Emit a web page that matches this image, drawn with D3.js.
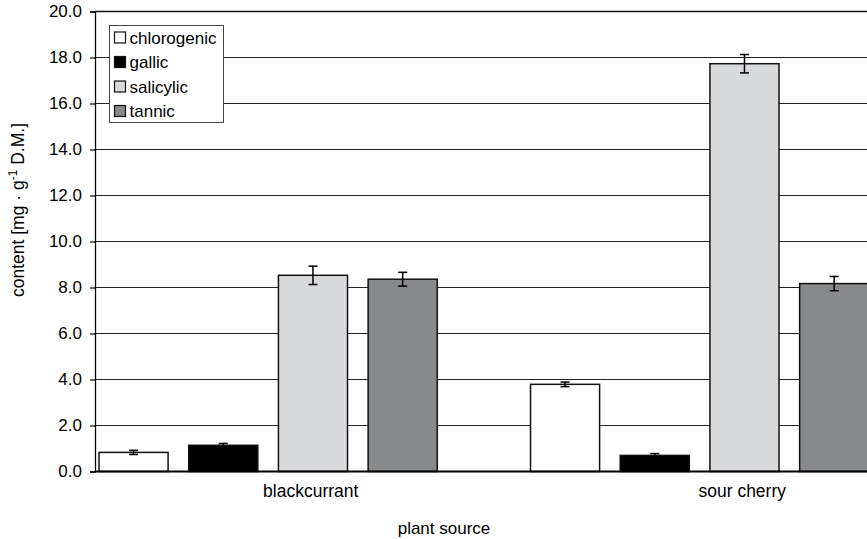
<!DOCTYPE html>
<html>
<head>
<meta charset="utf-8">
<script src="https://cdn.jsdelivr.net/npm/d3@7"></script>
<style>
  body { margin: 0; background: #fff; }
  text { font-family: "Liberation Sans", Arial, sans-serif; fill: #000; }
</style>
</head>
<body>
<div id="chart"></div>
<script>
// chart data
var categories = ["blackcurrant", "sour cherry"];
var series = ["chlorogenic", "gallic", "salicylic", "tannic"];
var seriesColors = ["#ffffff", "#000000", "#d9dadc", "#88898b"];
// values per category, same order as series
var blackcurrantValues = [0.83, 1.14, 8.53, 8.36];
var sourCherryValues = [3.79, 0.70, 17.73, 8.17];
var blackcurrantErrors = [0.09, 0.08, 0.40, 0.30];
var sourCherryErrors = [0.10, 0.08, 0.40, 0.31];
var yTicks = [0, 2, 4, 6, 8, 10, 12, 14, 16, 18, 20];

var svgWidth = 867;
var svgHeight = 539;
var margin = { top: 11.5, left: 95, bottom: 67.5 };
var plotBottom = svgHeight - margin.bottom;

var svg = d3.select("#chart")
    .append("svg")
    .attr("width", svgWidth)
    .attr("height", svgHeight);

var rows = [];
categories.forEach(function (cat, ci) {
    var vals = ci === 0 ? blackcurrantValues : sourCherryValues;
    var errs = ci === 0 ? blackcurrantErrors : sourCherryErrors;
    series.forEach(function (s, si) {
        rows.push({ cat: cat, series: s, value: vals[si], err: errs[si], color: seriesColors[si] });
    });
});

// the plot continues past the right edge of the picture
var x0 = d3.scaleBand()
    .domain(categories)
    .range([margin.left, 958]);

var x1 = d3.scaleBand()
    .domain(series)
    .range([0, x0.bandwidth()])
    .paddingInner(0.23)
    .paddingOuter(0.52)
    .align(0.043);

var yScale = d3.scaleLinear()
    .domain([0, 20])
    .range([plotBottom, margin.top]);

// grid lines
svg.append("g")
    .selectAll("line")
    .data(yTicks.filter(d => d > 0))
    .enter()
    .append("line")
    .attr("x1", margin.left)
    .attr("x2", svgWidth)
    .attr("y1", d => yScale(d))
    .attr("y2", d => yScale(d))
    .attr("stroke", "#222")
    .attr("stroke-width", 1.2);

// bars
svg.append("g")
    .selectAll("rect")
    .data(rows)
    .enter()
    .append("rect")
    .attr("x", d => x0(d.cat) + x1(d.series))
    .attr("y", d => yScale(d.value))
    .attr("width", x1.bandwidth())
    .attr("height", d => plotBottom - yScale(d.value))
    .attr("fill", d => d.color)
    .attr("stroke", "#111")
    .attr("stroke-width", 1.5);

// error bars
var errG = svg.append("g")
    .attr("stroke", "#000")
    .attr("stroke-width", 1.5);

rows.forEach(function (d) {
    var cx = x0(d.cat) + x1(d.series) + x1.bandwidth() / 2;
    var yTop = yScale(d.value + d.err);
    var yBot = yScale(d.value - d.err);
    errG.append("line").attr("x1", cx).attr("x2", cx).attr("y1", yTop).attr("y2", yBot);
    errG.append("line").attr("x1", cx - 4.5).attr("x2", cx + 4.5).attr("y1", yTop).attr("y2", yTop);
    errG.append("line").attr("x1", cx - 4.5).attr("x2", cx + 4.5).attr("y1", yBot).attr("y2", yBot);
});

// y axis
var leftAxis = d3.axisLeft(yScale)
    .tickValues(yTicks)
    .tickFormat(d3.format(".1f"))
    .tickSize(5)
    .tickPadding(8);

var yAxisG = svg.append("g")
    .attr("transform", `translate(${margin.left}, 0)`)
    .call(leftAxis);
yAxisG.select(".domain").attr("stroke", "#000").attr("stroke-width", 1.3);
yAxisG.selectAll(".tick line").attr("stroke", "#000").attr("stroke-width", 1.2);
yAxisG.selectAll(".tick text")
    .attr("font-size", "17px")
    .attr("font-family", "Liberation Sans, Arial, sans-serif")
    .attr("fill", "#000");

// x axis (baseline line + category labels)
var bottomAxis = d3.axisBottom(x0).tickSize(0).tickPadding(13);
var xAxisG = svg.append("g")
    .attr("transform", `translate(0, ${plotBottom})`)
    .call(bottomAxis);
xAxisG.select(".domain")
    .attr("d", `M${margin.left},0H${svgWidth}`)
    .attr("stroke", "#000")
    .attr("stroke-width", 2);
xAxisG.selectAll(".tick text")
    .attr("font-size", "17.5px")
    .attr("font-family", "Liberation Sans, Arial, sans-serif")
    .attr("fill", "#000");

// top border
svg.append("line")
    .attr("x1", margin.left).attr("x2", svgWidth)
    .attr("y1", margin.top).attr("y2", margin.top)
    .attr("stroke", "#111").attr("stroke-width", 1.3);

// axis titles
svg.append("text")
    .attr("x", 444)
    .attr("y", 534)
    .attr("text-anchor", "middle")
    .attr("font-size", "17px")
    .text("plant source");

var yTitle = svg.append("text")
    .attr("transform", "translate(24, 210) rotate(-90)")
    .attr("text-anchor", "middle")
    .attr("font-size", "17.5px");
yTitle.append("tspan").text("content [mg · g");
yTitle.append("tspan").attr("dy", -7).attr("font-size", "12px").text("-1");
yTitle.append("tspan").attr("dy", 7).text(" D.M.]");

// legend
var legend = svg.append("g").attr("transform", "translate(109.5, 25.5)");
legend.append("rect")
    .attr("width", 114)
    .attr("height", 97)
    .attr("fill", "#fff")
    .attr("stroke", "#444")
    .attr("stroke-width", 1);

var items = legend.selectAll("g.item")
    .data(series)
    .enter()
    .append("g")
    .attr("class", "item")
    .attr("transform", (d, i) => `translate(5, ${6.5 + i * 24.5})`);

items.append("rect")
    .attr("width", 11)
    .attr("height", 11)
    .attr("fill", (d, i) => seriesColors[i])
    .attr("stroke", "#111")
    .attr("stroke-width", 1.2);

items.append("text")
    .attr("x", 15)
    .attr("y", 11.5)
    .attr("font-size", "17px")
    .text(d => d);
</script>
</body>
</html>
